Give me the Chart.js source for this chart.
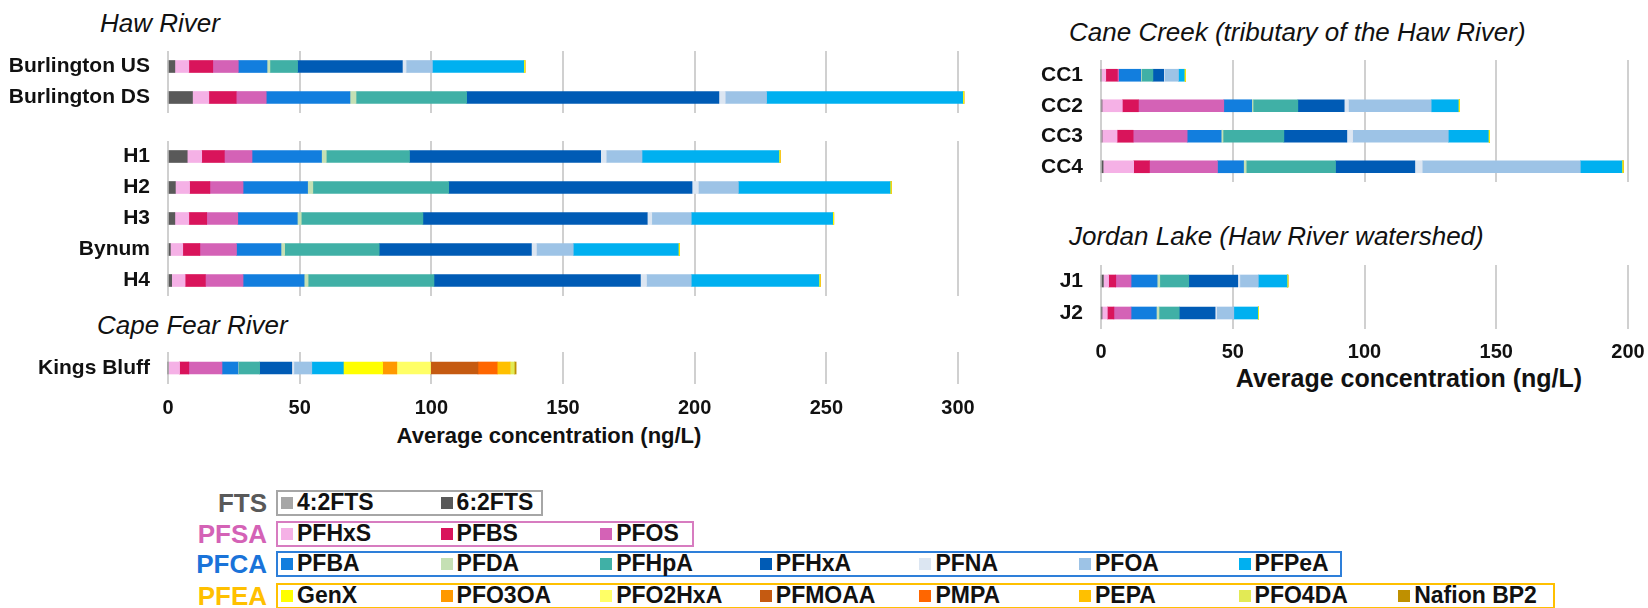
<!DOCTYPE html>
<html lang="en">
<head>
  <meta charset="UTF-8" />
  <title>PFAS average concentrations – Haw River, Cape Fear River, Cane Creek, Jordan Lake</title>
  <script src="https://cdn.jsdelivr.net/npm/chart.js"></script>
  <style>
    body {
      margin: 0;
      width: 1648px;
      height: 608px;
      position: relative;
      overflow: hidden;
      background: #fff;
      font-family: 'Liberation Sans', Arial, sans-serif;
      color: #111;
    }
    canvas { position: absolute; }
    .group-title {
      position: absolute;
      font-style: italic;
      font-size: 26px;
      line-height: 26px;
      white-space: nowrap;
    }
    .axis-title {
      position: absolute;
      font-weight: bold;
      white-space: nowrap;
      transform: translateX(-50%);
    }
    .lg-box {
      position: absolute;
      height: 26px;
      box-sizing: border-box;
      border: 2px solid;
    }
    .lg-group {
      position: absolute;
      font-weight: bold;
      font-size: 26px;
      line-height: 26px;
      text-align: right;
      width: 100px;
    }
    .lg-item {
      position: absolute;
      font-weight: bold;
      font-size: 23px;
      line-height: 23px;
      white-space: nowrap;
      padding-left: 16px;
    }
    .lg-item i {
      position: absolute;
      left: 0;
      top: 6px;
      width: 12px;
      height: 12px;
    }
  </style>
</head>
<body>

  <div class="group-title" style="left:100px; top:10px;">Haw River</div>
  <div class="group-title" style="left:97px; top:312px;">Cape Fear River</div>
  <div class="group-title" style="left:1069px; top:19px;">Cane Creek (tributary of the Haw River)</div>
  <div class="group-title" style="left:1069px; top:223px;">Jordan Lake (Haw River watershed)</div>

  <div class="axis-title" style="left:549px; top:423px; font-size:22px;">Average concentration (ng/L)</div>
  <div class="axis-title" style="left:1409px; top:364px; font-size:25px;">Average concentration (ng/L)</div>

  <div id="legend"></div>

  <script>
    // compounds, in stacking order
    const compounds = ['4:2FTS', '6:2FTS', 'PFHxS', 'PFBS', 'PFOS', 'PFBA', 'PFDA', 'PFHpA', 'PFHxA', 'PFNA',
      'PFOA', 'PFPeA', 'GenX', 'PFO3OA', 'PFO2HxA', 'PFMOAA', 'PMPA', 'PEPA', 'PFO4DA', 'Nafion BP2'];
    const compoundColors = ['#a6a6a6', '#595959', '#f5b1e6', '#d9145b', '#d462b6', '#127ede', '#c5e0b4', '#40b0a6', '#005bb5', '#dce6f2',
      '#9dc3e6', '#00b0f0', '#ffff00', '#ff9900', '#ffff66', '#c55a11', '#ff6600', '#ffc000', '#e2ea55', '#bf9000'];

    // sites
    const hawUpperSites = ['Burlington US', 'Burlington DS'];
    const hawLowerSites = ['H1', 'H2', 'H3', 'Bynum', 'H4'];
    const capeFearSites = ['Kings Bluff'];
    const caneCreekSites = ['CC1', 'CC2', 'CC3', 'CC4'];
    const jordanSites = ['J1', 'J2'];

    // average concentration (ng/L), same order as `compounds`
    const burlingtonUS = [0, 2.6, 5.3, 9.1, 9.7, 10.9, 1.1, 10.5, 39.8, 1.4, 10.0, 34.7, 0.4, 0, 0, 0, 0, 0, 0, 0];
    const burlingtonDS = [0, 9.3, 6.2, 10.4, 11.4, 31.8, 2.3, 42.0, 95.8, 2.4, 15.7, 74.5, 0.4, 0, 0, 0, 0, 0, 0, 0];
    const h1 = [0, 7.3, 5.5, 8.6, 10.5, 26.4, 1.8, 31.6, 72.6, 2.1, 13.6, 52.0, 0.4, 0, 0, 0, 0, 0, 0, 0];
    const h2 = [0, 2.8, 5.4, 7.7, 12.6, 24.5, 2.0, 51.6, 92.4, 2.4, 15.2, 57.6, 0.4, 0, 0, 0, 0, 0, 0, 0];
    const h3 = [0, 2.6, 5.3, 6.8, 11.8, 22.6, 1.5, 46.2, 85.2, 1.7, 15.0, 53.7, 0.4, 0, 0, 0, 0, 0, 0, 0];
    const bynum = [0, 0.9, 4.7, 6.5, 13.9, 16.9, 1.4, 35.9, 57.8, 1.9, 14.0, 39.9, 0.4, 0, 0, 0, 0, 0, 0, 0];
    const h4 = [0, 1.4, 5.1, 7.7, 14.3, 23.2, 1.5, 47.8, 78.4, 2.3, 17.0, 48.5, 0.4, 0, 0, 0, 0, 0, 0, 0];
    const kingsBluff = [0, 0, 4.4, 3.5, 12.6, 6.1, 0.2, 8.0, 12.2, 0.8, 6.8, 12.0, 14.9, 5.4, 12.8, 18.0, 7.3, 4.9, 1.6, 0.7];
    const cc1 = [0, 0, 1.8, 4.4, 0.5, 8.4, 0.3, 4.3, 4.1, 0.3, 5.3, 2.2, 0.4, 0, 0, 0, 0, 0, 0, 0];
    const cc2 = [0, 0.3, 7.8, 6.1, 32.4, 10.6, 0.5, 17.0, 17.6, 1.6, 31.4, 10.3, 0.4, 0, 0, 0, 0, 0, 0, 0];
    const cc3 = [0, 0.4, 5.7, 6.1, 20.5, 12.9, 0.7, 23.1, 23.9, 2.2, 36.3, 15.2, 0.4, 0, 0, 0, 0, 0, 0, 0];
    const cc4 = [0, 0.8, 11.6, 6.0, 25.8, 9.9, 1.0, 33.9, 30.1, 2.8, 60.0, 15.8, 0.4, 0, 0, 0, 0, 0, 0, 0];
    const j1 = [0, 0.9, 2.0, 2.7, 5.8, 9.9, 1.0, 11.0, 18.6, 0.8, 7.0, 10.9, 0.3, 0, 0, 0, 0, 0, 0, 0];
    const j2 = [0, 0.2, 2.2, 2.5, 6.5, 9.6, 1.0, 7.7, 13.6, 0.6, 6.5, 9.1, 0.3, 0, 0, 0, 0, 0, 0, 0];

    const siteValues = {
      'Burlington US': burlingtonUS, 'Burlington DS': burlingtonDS,
      'H1': h1, 'H2': h2, 'H3': h3, 'Bynum': bynum, 'H4': h4,
      'Kings Bluff': kingsBluff,
      'CC1': cc1, 'CC2': cc2, 'CC3': cc3, 'CC4': cc4,
      'J1': j1, 'J2': j2
    };

    // x axis ranges
    const leftMax = 300;
    const rightMax = 200;
    const tickStep = 50;

    // legend groups
    const legendGroups = [
      { name: 'FTS', members: ['4:2FTS', '6:2FTS'] },
      { name: 'PFSA', members: ['PFHxS', 'PFBS', 'PFOS'] },
      { name: 'PFCA', members: ['PFBA', 'PFDA', 'PFHpA', 'PFHxA', 'PFNA', 'PFOA', 'PFPeA'] },
      { name: 'PFEA', members: ['GenX', 'PFO3OA', 'PFO2HxA', 'PFMOAA', 'PMPA', 'PEPA', 'PFO4DA', 'Nafion BP2'] }
    ];

    Chart.defaults.font.family = "'Liberation Sans', Arial, sans-serif";

    const PAD = 40;

    // one panel = one stacked horizontal bar chart
    function makePanel(sites, p) {
      const xH = p.showTicks ? 48 : 0;
      const canvas = document.createElement('canvas');
      canvas.width = p.axisW + p.plotW + PAD;
      canvas.height = PAD + p.plotH + (p.showTicks ? xH : PAD);
      canvas.style.left = p.left + 'px';
      canvas.style.top = (p.plotTop - PAD) + 'px';
      document.body.appendChild(canvas);

      new Chart(canvas, {
        type: 'bar',
        data: {
          labels: sites,
          datasets: compounds.map((name, i) => ({
            label: name,
            data: sites.map(s => siteValues[s][i]),
            backgroundColor: compoundColors[i],
            barThickness: 12,
            clip: false
          }))
        },
        options: {
          indexAxis: 'y',
          responsive: false,
          animation: false,
          layout: { padding: { left: 0, right: PAD, top: PAD, bottom: p.showTicks ? 0 : PAD } },
          plugins: { legend: { display: false }, tooltip: { enabled: false } },
          scales: {
            x: {
              stacked: true,
              min: 0,
              max: p.max,
              border: { display: false },
              grid: { color: '#d0d0d0', lineWidth: 2, drawTicks: false },
              ticks: {
                display: p.showTicks,
                stepSize: tickStep,
                padding: p.tickPad || 12,
                color: '#111',
                font: { size: 20, weight: 'bold' }
              },
              afterFit: s => { s.height = xH; }
            },
            y: {
              stacked: true,
              border: { display: false },
              grid: { display: false, drawTicks: false },
              ticks: { padding: 18, color: '#111', font: { size: 21, weight: 'bold' } },
              afterFit: s => { s.width = p.axisW; }
            }
          }
        }
      });
    }

    // left side: plot starts at x=168, 300 units over 790 px
    makePanel(hawUpperSites, { left: 0, axisW: 168, plotW: 790, plotTop: 51, plotH: 62, max: leftMax, showTicks: false });
    makePanel(hawLowerSites, { left: 0, axisW: 168, plotW: 790, plotTop: 141, plotH: 155, max: leftMax, showTicks: false });
    makePanel(capeFearSites, { left: 0, axisW: 168, plotW: 790, plotTop: 352, plotH: 32, max: leftMax, showTicks: true, tickPad: 12 });

    // right side: plot starts at x=1101, 200 units over 527 px
    makePanel(caneCreekSites, { left: 1000, axisW: 101, plotW: 527, plotTop: 60, plotH: 122, max: rightMax, showTicks: false });
    makePanel(jordanSites, { left: 1000, axisW: 101, plotW: 527, plotTop: 265, plotH: 64, max: rightMax, showTicks: true, tickPad: 11 });

    // grouped legend
    const legendLayout = {
      FTS:  { text: '#595959', border: '#a6a6a6', y: 503, right: 543 },
      PFSA: { text: '#d462b6', border: '#d77cc0', y: 534, right: 694 },
      PFCA: { text: '#1a73d9', border: '#2e7fd9', y: 564, right: 1342 },
      PFEA: { text: '#ffc000', border: '#ffc000', y: 596, right: 1555 }
    };
    const legend = document.getElementById('legend');
    legendGroups.forEach(g => {
      const L = legendLayout[g.name];
      const box = document.createElement('div');
      box.className = 'lg-box';
      box.style.left = '276px';
      box.style.top = (L.y - 13) + 'px';
      box.style.width = (L.right - 276) + 'px';
      box.style.borderColor = L.border;
      legend.appendChild(box);

      const lab = document.createElement('div');
      lab.className = 'lg-group';
      lab.textContent = g.name;
      lab.style.left = '167px';
      lab.style.top = (L.y - 13) + 'px';
      lab.style.color = L.text;
      legend.appendChild(lab);

      g.members.forEach((m, i) => {
        const it = document.createElement('div');
        it.className = 'lg-item';
        it.style.left = (281 + i * 159.6) + 'px';
        it.style.top = (L.y - 12) + 'px';
        it.innerHTML = '<i style="background:' + compoundColors[compounds.indexOf(m)] + '"></i>' + m;
        legend.appendChild(it);
      });
    });
  </script>
</body>
</html>
